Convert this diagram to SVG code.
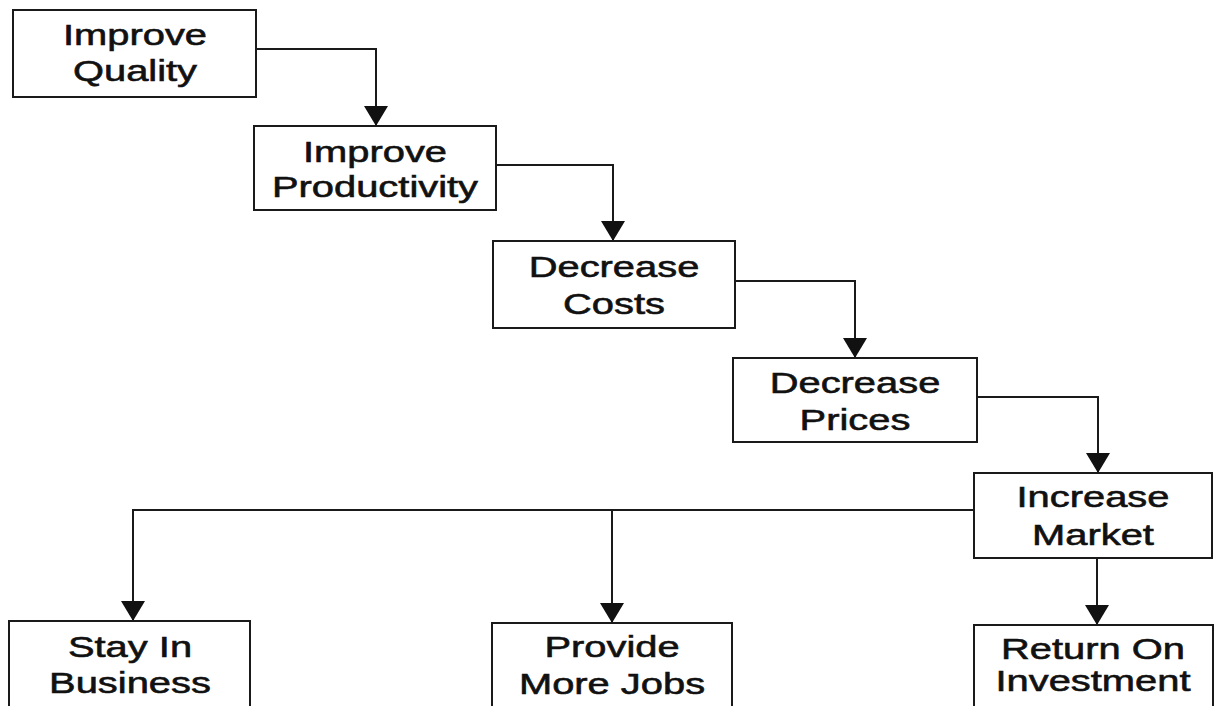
<svg xmlns="http://www.w3.org/2000/svg" width="1216" height="706" viewBox="0 0 1216 706">
<style>
.box{fill:#fff;stroke:#1a1a1a;stroke-width:2}
.lbl{font-family:"Liberation Sans",Arial,Helvetica,sans-serif;font-size:30px;fill:#111;stroke:#111;stroke-width:0.6;text-anchor:middle}
.conn{fill:none;stroke:#1a1a1a;stroke-width:2}
</style>
<defs>
<marker id="arr" viewBox="0 0 20 24" refX="20" refY="12" markerWidth="20" markerHeight="24" markerUnits="userSpaceOnUse" orient="auto">
<path d="M0,0 L20,12 L0,24 Z" fill="#111"/>
</marker>
</defs>
<rect width="1216" height="706" fill="#fff"/>
<g id="connectors">
<path class="conn" d="M256,49 H376 V126" marker-end="url(#arr)"/>
<path class="conn" d="M496,165 H613 V241" marker-end="url(#arr)"/>
<path class="conn" d="M735,281 H855 V358" marker-end="url(#arr)"/>
<path class="conn" d="M977,397 H1098 V473" marker-end="url(#arr)"/>
<path class="conn" d="M1097,558 V625" marker-end="url(#arr)"/>
<path class="conn" d="M974,510 H133 V621" marker-end="url(#arr)"/>
<path class="conn" d="M612,510 V623" marker-end="url(#arr)"/>
</g>
<g id="improve-quality">
<rect class="box" x="13" y="10" width="243" height="87"/>
<g transform="translate(135,0) scale(1.33,1)"><text class="lbl" x="0" y="45">Improve</text><text class="lbl" x="0" y="81">Quality</text></g>
</g>
<g id="improve-productivity">
<rect class="box" x="254" y="126" width="242" height="84"/>
<g transform="translate(375,0) scale(1.33,1)"><text class="lbl" x="0" y="162">Improve</text><text class="lbl" x="0" y="197">Productivity</text></g>
</g>
<g id="decrease-costs">
<rect class="box" x="493" y="241" width="242" height="87"/>
<g transform="translate(614,0) scale(1.33,1)"><text class="lbl" x="0" y="277">Decrease</text><text class="lbl" x="0" y="314">Costs</text></g>
</g>
<g id="decrease-prices">
<rect class="box" x="733" y="358" width="244" height="84"/>
<g transform="translate(855,0) scale(1.33,1)"><text class="lbl" x="0" y="393">Decrease</text><text class="lbl" x="0" y="430">Prices</text></g>
</g>
<g id="increase-market">
<rect class="box" x="974" y="473" width="238" height="85"/>
<g transform="translate(1093,0) scale(1.33,1)"><text class="lbl" x="0" y="507">Increase</text><text class="lbl" x="0" y="545">Market</text></g>
</g>
<g id="stay-in-business">
<rect class="box" x="9" y="621" width="241" height="100"/>
<g transform="translate(130,0) scale(1.33,1)"><text class="lbl" x="0" y="657">Stay In</text><text class="lbl" x="0" y="693">Business</text></g>
</g>
<g id="provide-more-jobs">
<rect class="box" x="492" y="623" width="240" height="100"/>
<g transform="translate(612,0) scale(1.33,1)"><text class="lbl" x="0" y="657">Provide</text><text class="lbl" x="0" y="694">More Jobs</text></g>
</g>
<g id="return-on-investment">
<rect class="box" x="974" y="625" width="239" height="100"/>
<g transform="translate(1093,0) scale(1.33,1)"><text class="lbl" x="0" y="659">Return On</text><text class="lbl" x="0" y="691">Investment</text></g>
</g>
</svg>
